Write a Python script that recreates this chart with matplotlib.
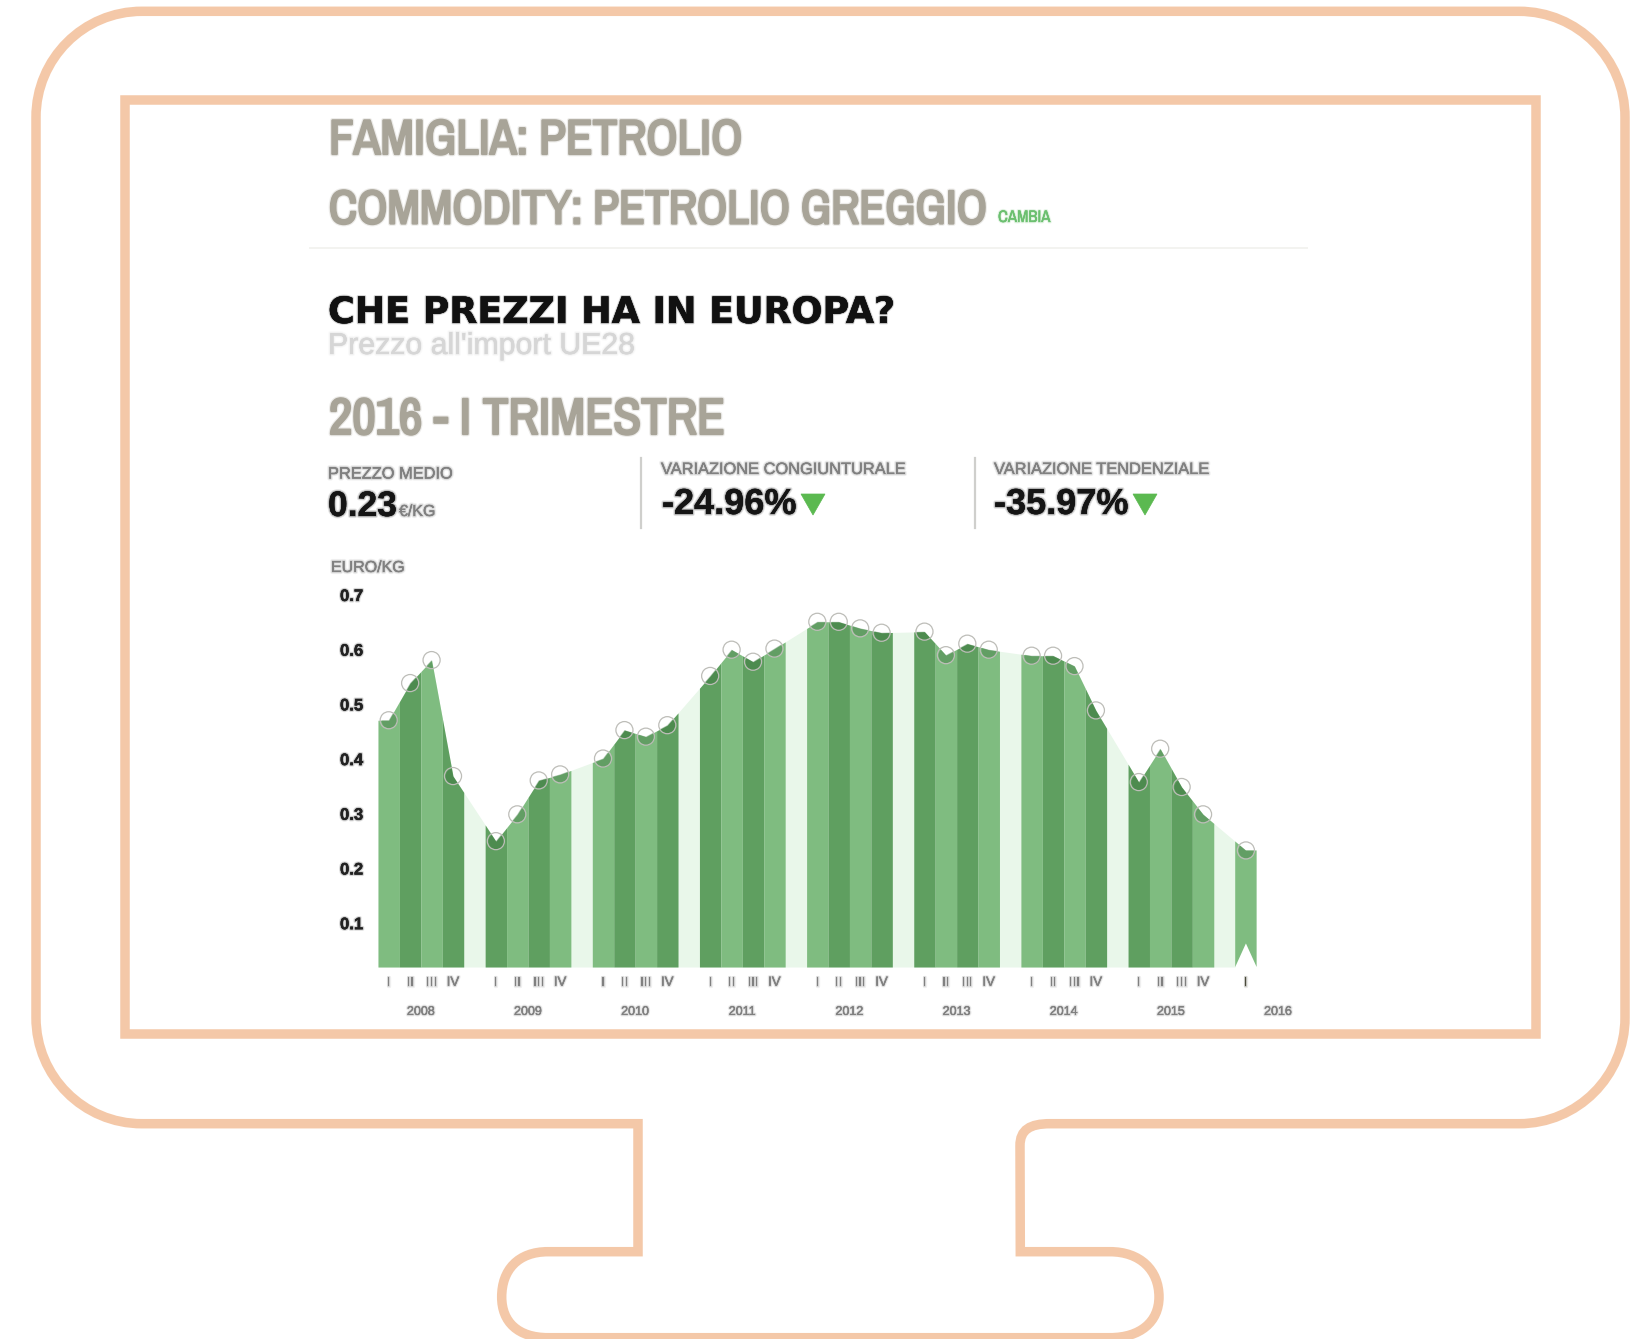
import logging
import numpy as np
import matplotlib
matplotlib.use("Agg")
import matplotlib.pyplot as plt
import matplotlib.patheffects as pe
from matplotlib.path import Path
from matplotlib.patches import PathPatch, Polygon

logging.getLogger("matplotlib.font_manager").setLevel(logging.ERROR)

W, H = 1646, 1339

# ---- data ----
years = ["2008", "2009", "2010", "2011", "2012", "2013", "2014", "2015", "2016"]
quarters = ["I", "II", "III", "IV"]
v2008 = [0.471, 0.539, 0.581, 0.369]
v2009 = [0.250, 0.299, 0.361, 0.372]
v2010 = [0.401, 0.453, 0.441, 0.462]
v2011 = [0.552, 0.600, 0.578, 0.602]
v2012 = [0.651, 0.651, 0.639, 0.631]
v2013 = [0.633, 0.590, 0.611, 0.600]
v2014 = [0.589, 0.589, 0.570, 0.489]
v2015 = [0.358, 0.419, 0.349, 0.299]
v2016 = [0.233]
by_year = [v2008, v2009, v2010, v2011, v2012, v2013, v2014, v2015, v2016]
y_ticks = [0.1, 0.2, 0.3, 0.4, 0.5, 0.6, 0.7]
notch_value = 0.063

# ---- style ----
FRAME = "#f4c8a8"
LIGHT = "#7fbc80"
DARK = "#5f9f60"
PALE = "#e9f7ea"
TITLE = "#a8a498"
GREY = "#808080"
GREEN = "#5bb950"
NARROW = ["Archivo Narrow", "Liberation Sans"]
SANS = ["Liberation Sans", "DejaVu Sans"]
WIDE = ["DejaVu Sans"]


def soft(color, w=1.0):
    return [pe.withStroke(linewidth=3.0 * w, foreground=color, alpha=0.12),
            pe.withStroke(linewidth=1.5 * w, foreground=color, alpha=0.25),
            pe.Normal()]


def heavy(color):
    return [pe.withStroke(linewidth=3.4, foreground=color, alpha=0.2),
            pe.withStroke(linewidth=1.7, foreground=color),
            pe.Normal()]


fig = plt.figure(figsize=(W / 100, H / 100), dpi=100, facecolor="white")

# ---- monitor outline, in picture pixels ----
bg = fig.add_axes([0, 0, 1, 1])
bg.set_xlim(0, W)
bg.set_ylim(H, 0)
bg.axis("off")

k = 0.5523


def outline():
    v, c = [], []

    def mv(x, y):
        v.append((x, y)); c.append(Path.MOVETO)

    def ln(x, y):
        v.append((x, y)); c.append(Path.LINETO)

    def cv(x0, y0, x1, y1, x2, y2):
        v.extend([(x0, y0), (x1, y1), (x2, y2)])
        c.extend([Path.CURVE4] * 3)

    L, T, R, B = 36, 11.3, 1625, 1123.7
    r = 106
    mv(L + r, T)
    ln(R - r, T)
    cv(R - r + k * r, T, R, T + r - k * r, R, T + r)
    ln(R, B - r)
    cv(R, B - r + k * r, R - r + k * r, B, R - r, B)
    ln(1050, B)
    cv(1030, B, 1020, B + 6, 1020, B + 22)
    ln(1020.3, 1251.7)
    ln(1110, 1251.7)
    cv(1140, 1251.7, 1159, 1270, 1159, 1297)
    cv(1159, 1322, 1140, 1337.7, 1110, 1337.7)
    ln(548, 1337.7)
    cv(518, 1337.7, 501.7, 1322, 501.7, 1297)
    cv(501.7, 1270, 518, 1251.7, 548, 1251.7)
    ln(638, 1251.7)
    ln(638, B)
    ln(L + r, B)
    cv(L + r - k * r, B, L, B - r + k * r, L, B - r)
    ln(L, T + r)
    cv(L, T + r - k * r, L + r - k * r, T, L + r, T)
    c.append(Path.CLOSEPOLY); v.append((L + r, T))
    return Path(v, c)


bg.add_patch(PathPatch(outline(), fc="none", ec=FRAME, lw=9.5 * 0.72, joinstyle="miter"))
bg.add_patch(Polygon([(125, 100), (1536, 100), (1536, 1034), (125, 1034)], closed=True,
                     fc="none", ec=FRAME, lw=9.5 * 0.72, joinstyle="miter"))

# ---- header texts ----


def T(x, y, s, size, color, weight="normal", family=SANS, w=1.0):
    t = bg.text(x, y, s, fontsize=size, color=color, fontweight=weight, family=family,
                ha="left", va="baseline")
    t.set_path_effects(soft(color, w))
    return t


def HEAD(x, y, s, size):
    t = bg.text(x, y, s, fontsize=size, color=TITLE, family=NARROW,
                ha="left", va="baseline")
    t.set_path_effects(heavy(TITLE))
    return t


HEAD(329, 154, "FAMIGLIA: PETROLIO", 35.3)
HEAD(329, 223.5, "COMMODITY: PETROLIO GREGGIO", 34.2)
T(998, 222, "CAMBIA", 12, "#6cc070", "normal", NARROW, 0.7)
bg.plot([310, 1307], [248, 248], color="#f3f3f0", lw=1.4)
T(328, 323, "CHE PREZZI HA IN EUROPA?", 26.2, "#111111", "bold", WIDE, 0.7)
T(328, 354, "Prezzo all'import UE28", 21.8, "#d6d6d6")
HEAD(329, 434, "2016 - I TRIMESTRE", 36.8)
T(328, 478.5, "PREZZO MEDIO", 11.8, GREY)
T(328, 516, "0.23", 25.5, "#151515", "bold")
T(399, 516, "€/KG", 11.5, GREY)
T(661, 474, "VARIAZIONE CONGIUNTURALE", 11.8, GREY)
T(662, 514, "-24.96%", 26, "#151515", "bold")
T(994, 474, "VARIAZIONE TENDENZIALE", 11.8, GREY)
T(994, 514, "-35.97%", 26, "#151515", "bold")
T(331, 572, "EURO/KG", 11.5, GREY)
for x in (641, 975):
    bg.plot([x, x], [458, 528], color="#cfcfcc", lw=1.6)
for x0 in (801, 1133):
    bg.add_patch(Polygon([(x0, 494), (x0 + 24, 494), (x0 + 12, 515)], closed=True,
                         fc=GREEN, ec=GREEN, lw=0.5))

# ---- chart ----
unit = 21.43
px_left, px_top, px_bottom = 378.0, 595.0, 967.0
x_units = 44
ax = fig.add_axes([px_left / W, 1 - px_bottom / H,
                   unit * x_units / W, (px_bottom - px_top) / H])
ax.patch.set_visible(False)
px_per_value = 547.0
ymin = 0.7 - (px_bottom - px_top) / px_per_value
ax.set_xlim(0, x_units)
ax.set_ylim(ymin, 0.7)
for s in ax.spines.values():
    s.set_visible(False)

centers, values, shades, q_labels = [], [], [], []
for yi, vals in enumerate(by_year):
    for qi, val in enumerate(vals):
        centers.append(yi * 5 + qi + 0.5)
        values.append(val)
        shades.append(LIGHT if (yi + qi) % 2 == 0 else DARK)
        q_labels.append(quarters[qi])
centers = np.array(centers)
values = np.array(values)
line_x = np.r_[0.0, centers, centers[-1] + 0.5]
line_y = np.r_[values[0], values, values[-1]]

# pale area behind everything, stops at the last bar
last_left = centers[-1] - 0.5
mask = line_x <= last_left
pale_x = np.r_[line_x[mask], last_left]
pale_y = np.r_[line_y[mask], np.interp(last_left, line_x, line_y)]
ax.fill_between(pale_x, ymin, pale_y, color=PALE, lw=0, zorder=1)

# bars follow the line
for c, col in zip(centers[:-1], shades[:-1]):
    bx = np.array([c - 0.5, c, c + 0.5])
    ax.fill_between(bx, ymin, np.interp(bx, line_x, line_y), color=col, lw=0, zorder=2)

# last bar with its notch at the foot
c = centers[-1]
top_l = np.interp(c - 0.5, line_x, line_y)
top_c = values[-1]
ax.fill([c - 0.5, c - 0.5, c, c + 0.5, c + 0.5, c],
        [ymin, top_l, top_c, top_c, ymin, notch_value],
        color=shades[-1], lw=0, zorder=2)

# circles: dark inside the area, only an outline above it
area = Polygon(np.column_stack([np.r_[line_x, line_x[-1], line_x[0]],
                                np.r_[line_y, ymin, ymin]]),
               transform=ax.transData, fc="none", ec="none")
ax.add_patch(area)
dark = ax.scatter(centers, values, s=11.5 ** 2, color="#2f6a33", alpha=0.36, lw=0, zorder=3)
dark.set_clip_path(area)
ax.scatter(centers, values, s=12.3 ** 2, facecolor="none", edgecolor="#bdbdb8", lw=0.9,
           zorder=4, clip_on=False)

# axes labels
ax.set_yticks(y_ticks)
ax.set_yticklabels([f"{v:.1f}" for v in y_ticks], fontsize=12, fontweight="bold",
                   color="#222222", family=SANS)
ax.tick_params(axis="y", length=0, pad=10.8)
ax.set_xticks(centers)
ax.set_xticklabels(q_labels, fontsize=9.5, color=GREY, family=SANS)
ax.tick_params(axis="x", which="major", length=0, pad=7)
ax.set_xticks([yi * 5 + 2 for yi in range(len(years))], minor=True)
ax.set_xticklabels(years, minor=True, fontsize=9, color=GREY, family=SANS)
ax.tick_params(axis="x", which="minor", length=0, pad=28)
ax.get_xticklabels()[-1].set_color("#4a4a3a")
for lab in ax.get_xticklabels() + ax.get_xticklabels(minor=True) + ax.get_yticklabels():
    lab.set_path_effects(soft(lab.get_color(), 0.8))

fig.savefig("out.png", dpi=100, facecolor="white")
